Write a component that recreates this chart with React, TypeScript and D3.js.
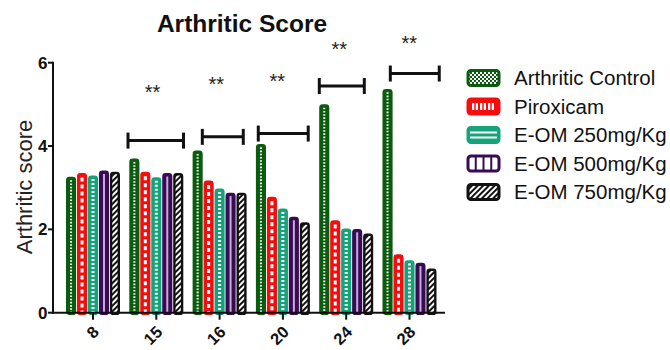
import React from 'react';
import * as d3 from 'd3';

const categories = ['8', '15', '16', '20', '24', '28'];
const seriesNames = ['Arthritic Control', 'Piroxicam', 'E-OM 250mg/Kg', 'E-OM 500mg/Kg', 'E-OM 750mg/Kg'];
const control = [3.26, 3.70, 3.89, 4.05, 5.00, 5.37];
const piroxicam = [3.35, 3.38, 3.17, 2.78, 2.22, 1.40];
const eom250 = [3.29, 3.25, 2.98, 2.50, 2.02, 1.26];
const eom500 = [3.41, 3.35, 2.88, 2.30, 2.01, 1.20];
const eom750 = [3.38, 3.35, 2.88, 2.17, 1.90, 1.06];
const yTicks = [0, 2, 4, 6];

// significance brackets: level in score units, ends as fractions of the category step
const bracketCats = ['15', '16', '20', '24', '28'];
const bracketLevel = [4.13, 4.22, 4.30, 5.44, 5.74];
const bracketFrom = [0.053, 0.227, 0.111, 0.075, 0.197];
const bracketTo = [0.93, 0.874, 0.90, 0.786, 0.97];
const starLevel = [5.39, 5.58, 5.66, 6.42, 6.57];
const starPos = [0.44, 0.448, 0.41, 0.39, 0.496];

const series = [control, piroxicam, eom250, eom500, eom750];
const colors = ['#0b5c0f', '#f50d0d', '#15a479', '#3a0b55', '#111111'];
const font = '"Liberation Sans", Arial, sans-serif';

const x0 = d3.scaleBand<string>().domain(categories).range([61.35, 441.15]).paddingInner(0.147).paddingOuter(0.0735);
const x1 = d3.scaleBand<number>().domain(d3.range(series.length)).range([0, x0.bandwidth()]).paddingInner(0.08);
const y = d3.scaleLinear().domain([0, 6]).range([312.7, 62.7]);
const step = x0.step();
const stepStart = (c: string) => (x0(c) as number) + x0.bandwidth() / 2 - step / 2;

function BarDecor({ s, cx, top, bottom }: { s: number; cx: number; top: number; bottom: number }) {
  if (s === 0) return <line x1={cx} x2={cx} y1={top} y2={bottom} stroke="#fff" strokeWidth={2} strokeDasharray="1.6 1.6" />;
  if (s === 1) return <line x1={cx} x2={cx} y1={top + 1} y2={bottom} stroke="#fff" strokeWidth={3} strokeDasharray="4 3" />;
  if (s === 2) return <line x1={cx} x2={cx} y1={top} y2={bottom} stroke="#fff" strokeWidth={3} strokeDasharray="2 2" />;
  if (s === 3) return <line x1={cx} x2={cx} y1={top} y2={bottom} stroke="#c4acd9" strokeWidth={2} />;
  return null;
}

function LegendSwatch({ s, x, yc }: { s: number; x: number; yc: number }) {
  const w = 31, h = 15, yy = yc - h / 2, c = colors[s];
  const fills = ['url(#pChecker)', c, c, '#fff', 'url(#pHatch)'];
  return (
    <g>
      <rect x={x} y={yy} width={w} height={h} rx={3} fill={fills[s]} stroke={c} strokeWidth={3} />
      {s === 1 && d3.range(3).map((k) => (
        <rect key={k} x={x + 4 + k * 8} y={yy + 4} width={6} height={7} fill="#fff" />
      ))}
      {s === 1 && d3.range(3).map((k) => (
        <line key={'l' + k} x1={x + 7 + k * 8} x2={x + 7 + k * 8} y1={yy + 4} y2={yy + 11} stroke={c} strokeWidth={1.5} />
      ))}
      {s === 2 && [5, 10].map((d) => (
        <line key={d} x1={x + 2} x2={x + w - 2} y1={yy + d} y2={yy + d} stroke="#fff" strokeWidth={2} />
      ))}
      {s === 3 && [1, 2, 3].map((k) => (
        <line key={k} x1={x + (w * k) / 4} x2={x + (w * k) / 4} y1={yy} y2={yy + h} stroke={c} strokeWidth={2} />
      ))}
    </g>
  );
}

export default function App() {
  const sw = 2.4;
  const base = y(0);
  return (
    <svg width={670} height={350} style={{ position: 'absolute', left: 0, top: 0, background: '#fff' }} fontFamily={font}>
      <defs>
        <pattern id="pChecker" width={4} height={4} patternUnits="userSpaceOnUse">
          <rect width={4} height={4} fill={colors[0]} />
          <rect width={2} height={2} fill="#fff" />
          <rect x={2} y={2} width={2} height={2} fill="#fff" />
        </pattern>
        <pattern id="pHatch" width={4} height={4} patternUnits="userSpaceOnUse" patternTransform="rotate(45)">
          <rect width={4} height={4} fill="#fff" />
          <rect width={2} height={4} fill="#111" />
        </pattern>
      </defs>

      <text x={242} y={32} textAnchor="middle" fontSize={24.5} fontWeight="bold" fill="#111">Arthritic Score</text>

      {/* bars */}
      {categories.map((c, ci) => (
        <g key={c} transform={`translate(${x0(c)},0)`}>
          {series.map((vals, s) => {
            const bx = x1(s) as number;
            const bw = x1.bandwidth();
            const top = y(vals[ci]);
            return (
              <g key={s}>
                <rect x={bx + sw / 2} y={top + sw / 2} width={bw - sw} height={base - top} rx={2.2}
                  fill={s === 4 ? 'url(#pHatch)' : colors[s]} stroke={colors[s]} strokeWidth={sw} />
                <BarDecor s={s} cx={bx + bw / 2} top={top + sw + 1} bottom={base} />
              </g>
            );
          })}
        </g>
      ))}

      {/* axes */}
      <line x1={53} x2={53} y1={y(6) - 1} y2={base + 1} stroke="#111" strokeWidth={2} />
      <line x1={52} x2={445} y1={base} y2={base} stroke="#111" strokeWidth={2} />
      {yTicks.map((t) => (
        <g key={t}>
          <line x1={48} x2={53} y1={y(t)} y2={y(t)} stroke="#111" strokeWidth={2} />
          <text x={47.5} y={y(t)} dy="0.36em" textAnchor="end" fontSize={17} fontWeight="bold" fill="#111">{t}</text>
        </g>
      ))}
      {categories.map((c) => {
        const cx = (x0(c) as number) + x0.bandwidth() / 2;
        return (
          <g key={c}>
            <line x1={cx} x2={cx} y1={base} y2={base + 7} stroke="#111" strokeWidth={2} />
            <text transform={`translate(${cx + 3},${329}) rotate(-45)`} textAnchor="end" dy="0.35em"
              fontSize={16.5} fontWeight="bold" fill="#111">{c}</text>
          </g>
        );
      })}
      <text transform={`translate(32,187) rotate(-90)`} textAnchor="middle" fontSize={22} fill="#222">Arthritic score</text>

      {/* significance */}
      {bracketCats.map((c, i) => {
        const s0 = stepStart(c);
        const xa = s0 + bracketFrom[i] * step;
        const xb = s0 + bracketTo[i] * step;
        const by = y(bracketLevel[i]);
        return (
          <g key={c} stroke="#111" strokeWidth={3}>
            <line x1={xa} x2={xb} y1={by} y2={by} />
            <line x1={xa} x2={xa} y1={by - 8} y2={by + 8} />
            <line x1={xb} x2={xb} y1={by - 8} y2={by + 8} />
            <text x={s0 + starPos[i] * step} y={y(starLevel[i]) + 11} textAnchor="middle" fontSize={20}
              stroke="none" fill="#222">**</text>
          </g>
        );
      })}

      {/* legend */}
      {seriesNames.map((n, i) => {
        const yc = 78 + i * 28.5;
        return (
          <g key={n}>
            <LegendSwatch s={i} x={468} yc={yc} />
            <text x={514} y={yc} dy="0.36em" fontSize={20.5} fill="#111">{n}</text>
          </g>
        );
      })}
    </svg>
  );
}
